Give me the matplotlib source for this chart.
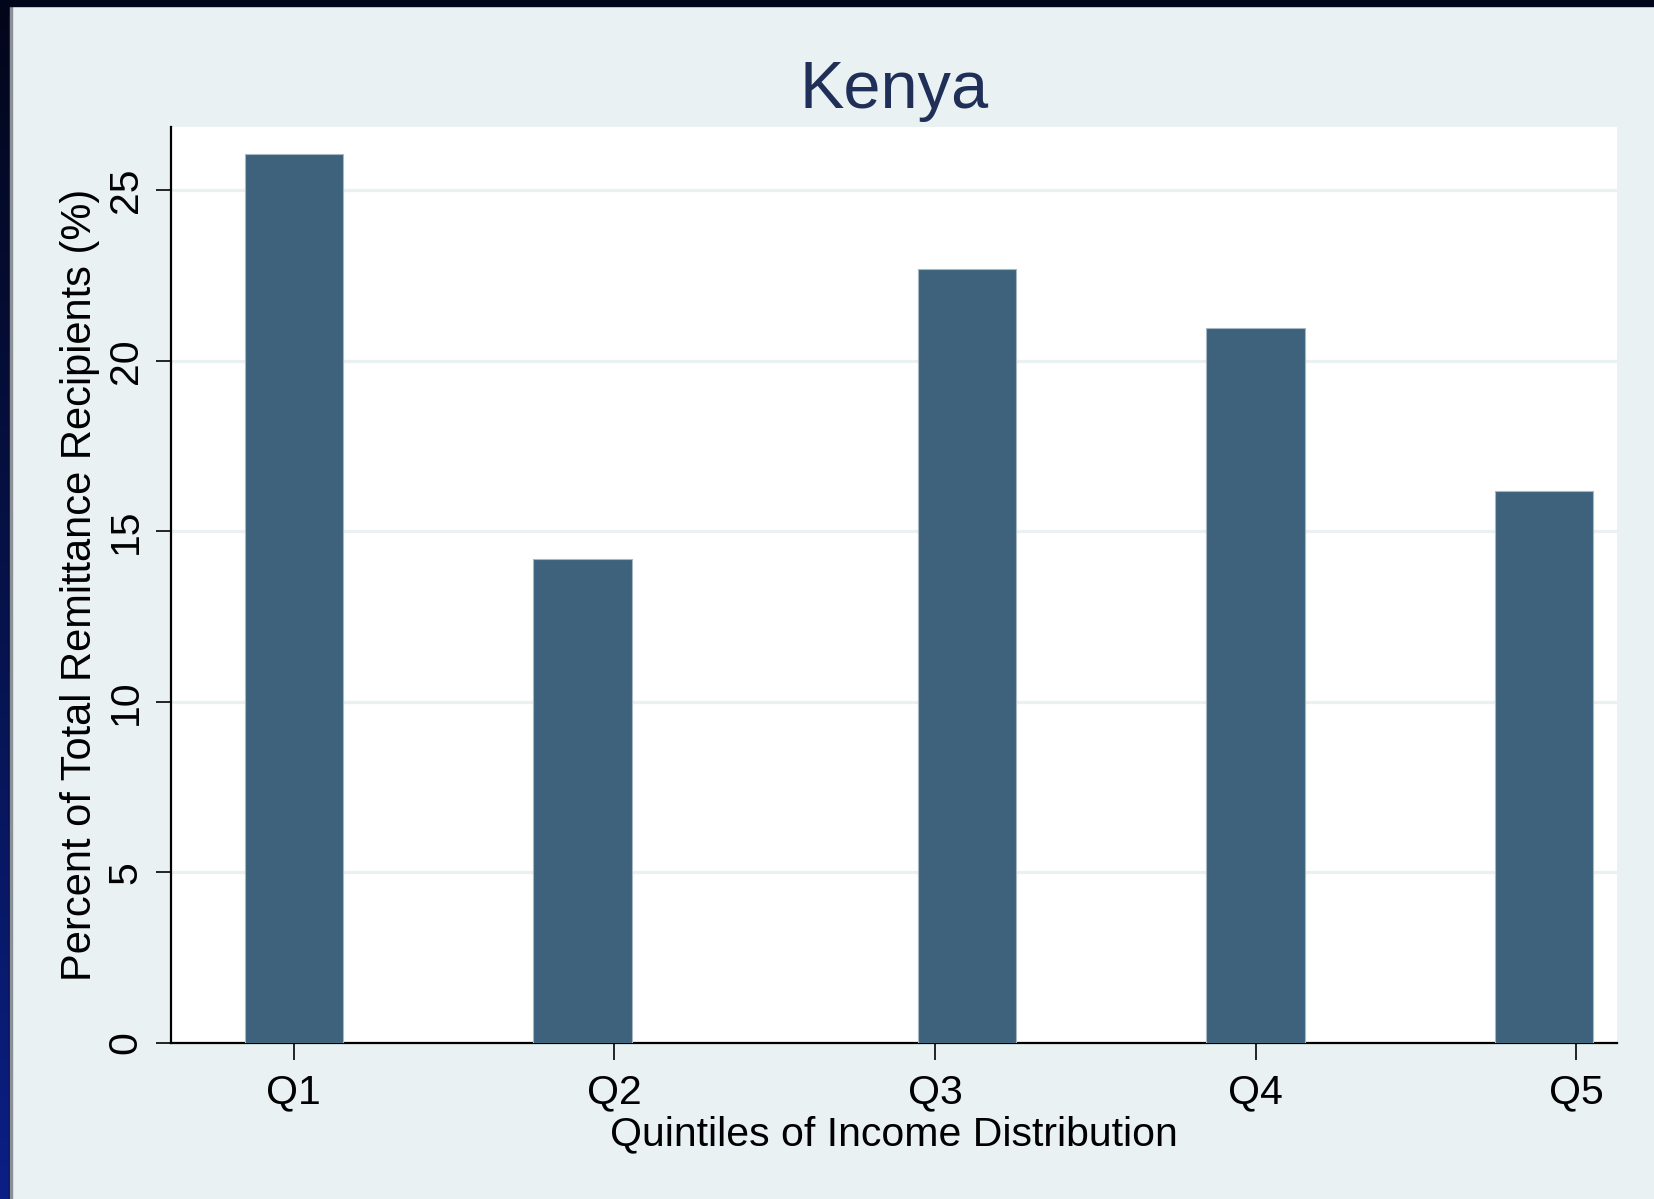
import matplotlib
matplotlib.use("Agg")
import matplotlib.pyplot as plt
import numpy as np
from matplotlib.colors import LinearSegmentedColormap
from matplotlib.patches import Rectangle

# data
quintiles = ["Q1", "Q2", "Q3", "Q4", "Q5"]
tick_x = [1, 2, 3, 4, 5]
bar_x = [1.0, 1.90, 3.10, 4.0, 4.90]
share = [26.07, 14.18, 22.69, 20.97, 16.18]
y_ticks = [0, 5, 10, 15, 20, 25]

BG = "#e9f1f3"
BAR = "#3e627c"
TITLE = "#1f2f57"

plt.rcParams["font.family"] = ["Liberation Sans", "DejaVu Sans"]

W, H = 1654, 1199
fig = plt.figure(figsize=(W / 100, H / 100), dpi=100, facecolor=BG)

# dark frame: gradient strip on the left, dark band on the top
cmap = LinearSegmentedColormap.from_list("frame", ["#03061a", "#06124a", "#0b1f86"])
strip = fig.add_axes([0, 0, 9 / W, 1])
strip.imshow(np.linspace(0, 1, 256).reshape(-1, 1), aspect="auto", cmap=cmap)
strip.set_axis_off()
fig.patches.append(Rectangle((9 / W, 0), 1 / W, 1, transform=fig.transFigure,
                             color="#050a22", zorder=5))
fig.patches.append(Rectangle((10 / W, 0), 1.5 / W, 1, transform=fig.transFigure,
                             color="#8a9096", zorder=5))
fig.patches.append(Rectangle((0, 1 - 6 / H), 1, 6 / H, transform=fig.transFigure,
                             color="#02061a", zorder=5))

ax = fig.add_axes([171 / W, 1 - 1043 / H, (1617 - 171) / W, (1043 - 127) / H])
ax.set_facecolor("white")

ax.bar(bar_x, share, width=0.307, color=BAR, edgecolor="#a7b8c4",
       linewidth=0.8, zorder=3)

ax.set_xlim(0.617, 5.127)
ax.set_ylim(0, 26.86)
ax.set_xticks(tick_x)
ax.set_xticklabels(quintiles)
ax.set_yticks(y_ticks)
ax.set_yticklabels([str(v) for v in y_ticks])

ax.yaxis.grid(True, color=BG, linewidth=2.3, zorder=0)
ax.set_axisbelow(True)

for side in ("top", "right"):
    ax.spines[side].set_visible(False)
for side in ("left", "bottom"):
    ax.spines[side].set_linewidth(1.6)
    ax.spines[side].set_color("black")

ax.tick_params(axis="x", length=12, width=1.2, pad=10, labelsize=29.5)
ax.tick_params(axis="y", length=11, width=1.2, pad=8, labelsize=29.5)
for lbl in ax.get_yticklabels():
    lbl.set_rotation(90)
    lbl.set_va("center")

ax.set_xlabel("Quintiles of Income Distribution", fontsize=29.5, labelpad=3)
ax.set_ylabel("Percent of Total Remittance Recipients (%)", fontsize=30, labelpad=5)
ax.set_title("Kenya", fontsize=48, color=TITLE, pad=14)

fig.savefig("out.png", dpi=100, facecolor=BG)
